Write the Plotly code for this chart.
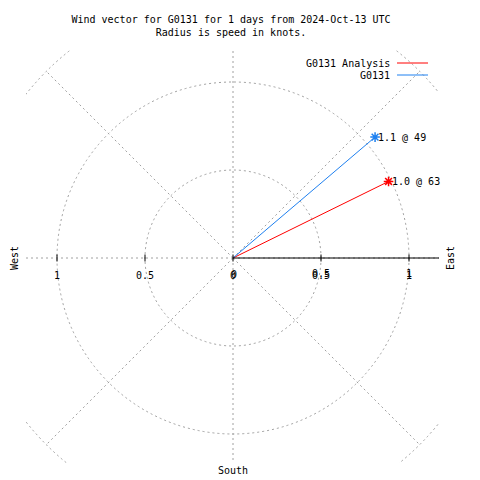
import plotly.graph_objects as go
import numpy as np

# ---- data ----
series_names = ["G0131 Analysis", "G0131"]
series_colors = ["#ff0000", "#1e80f0"]
speeds_kt = [0.985, 1.06]          # radius (knots)
directions_deg = [63.8, 49.6]      # degrees clockwise from north
r_tick_vals = [-1, -0.5, 0, 0.5, 1]
r_tick_text = ["1", "0.5", "0", "0.5", "1"]
grid_radii = [0.5, 1.0, 1.5]
grid_angles = [0, 45, 90, 135, 180, 225, 270, 315]

FONT = dict(family="DejaVu Sans Mono, Liberation Mono, monospace", size=10, color="black")
PX = 176.0  # pixels per unit (for small offsets only)
OFF = 8     # page body margin
PL, PR, PT, PB = 26, 439, 50, 463   # plot area on page


def pxx(p):
    return (p - PL) / (PR - PL)


def pxy(p):
    return (PB - p) / (PB - PT)


fig = go.Figure()

# vectors
for name, col, s, d in zip(series_names, series_colors, speeds_kt, directions_deg):
    th = np.deg2rad(d)
    x = s * np.sin(th)
    y = s * np.cos(th)
    fig.add_trace(go.Scatter(x=[0, x], y=[0, y], mode="lines",
                             line=dict(color=col, width=1), showlegend=False, hoverinfo="skip"))
    fig.add_trace(go.Scatter(x=[x], y=[y], mode="markers",
                             marker=dict(symbol="asterisk-open", size=8, color=col,
                                         line=dict(color=col, width=1.5)),
                             showlegend=False, hoverinfo="skip"))
    fig.add_annotation(x=x, y=y, text=f"{s:.1f} @ {int(d)}", showarrow=False,
                       xanchor="left", yanchor="middle", xshift=1, font=FONT)

shapes = []
grid_line = dict(color="#a0a0a0", width=1, dash="2px,3px")
for r in grid_radii:
    shapes.append(dict(type="circle", xref="x", yref="y", x0=-r, y0=-r, x1=r, y1=r,
                       line=grid_line, layer="below"))
for a in grid_angles:
    t = np.deg2rad(a)
    shapes.append(dict(type="line", xref="x", yref="y", x0=0, y0=0,
                       x1=1.5 * np.sin(t), y1=1.5 * np.cos(t), line=grid_line, layer="below"))
# solid x axis to the east
shapes.append(dict(type="line", xref="x", yref="y", x0=0, y0=0, x1=1.3, y1=0,
                   line=dict(color="black", width=1)))
# tick marks
for v in r_tick_vals:
    shapes.append(dict(type="line", xref="x", yref="y", x0=v, x1=v, y0=-3.5 / PX, y1=3.5 / PX,
                       line=dict(color="black", width=1)))

# tick labels (gnuplot draws the positive ones twice, slightly offset)
for v, t in zip(r_tick_vals, r_tick_text):
    fig.add_annotation(x=v, y=0, text=t, showarrow=False, yshift=-17, font=FONT)
    if v > 0:
        fig.add_annotation(x=v, y=0, text=t, showarrow=False, yshift=-15, font=FONT)
    elif v == 0:
        fig.add_annotation(x=v, y=0, text=t, showarrow=False, yshift=-16, xshift=1, font=FONT)

# compass labels (paper refs so they can sit outside the plot area)
for txt, px_, py_, ang in [("West", 15, 258, -90), ("East", 451, 258, -90), ("South", 233, 470, 0)]:
    fig.add_annotation(xref="paper", yref="paper", x=pxx(px_), y=pxy(py_), text=txt,
                       textangle=ang, showarrow=False, xanchor="center", yanchor="middle",
                       font=FONT)

# legend (gnuplot style: text right, sample line after)
for i, (name, col) in enumerate(zip(series_names, series_colors)):
    ypx = 63 + 12 * i
    yv = (258 - ypx) / PX
    fig.add_annotation(x=(392 - 233) / PX, y=yv, text=name, showarrow=False,
                       xanchor="right", yanchor="middle", font=FONT)
    shapes.append(dict(type="line", xref="x", yref="y", x0=(397 - 233) / PX, x1=(428 - 233) / PX,
                       y0=yv, y1=yv, line=dict(color=col, width=1)))

fig.update_layout(
    width=480, height=480, autosize=False,
    margin=dict(l=PL - OFF, r=480 - PR + OFF, t=PT - OFF, b=480 - PB + OFF),
    paper_bgcolor="white", plot_bgcolor="white",
    shapes=shapes,
    showlegend=False,
    title=dict(text="Wind vector for G0131 for 1 days from 2024-Oct-13 UTC<br>Radius is speed in knots.",
               x=(231 - OFF) / 480, xanchor="center", y=1 - 15 / 480, yanchor="top", font=FONT),
    xaxis=dict(range=[-207 / PX, 206 / PX], visible=False, fixedrange=True),
    yaxis=dict(range=[-205 / PX, 208 / PX], visible=False, fixedrange=True),
)

fig.write_html("out.html")
